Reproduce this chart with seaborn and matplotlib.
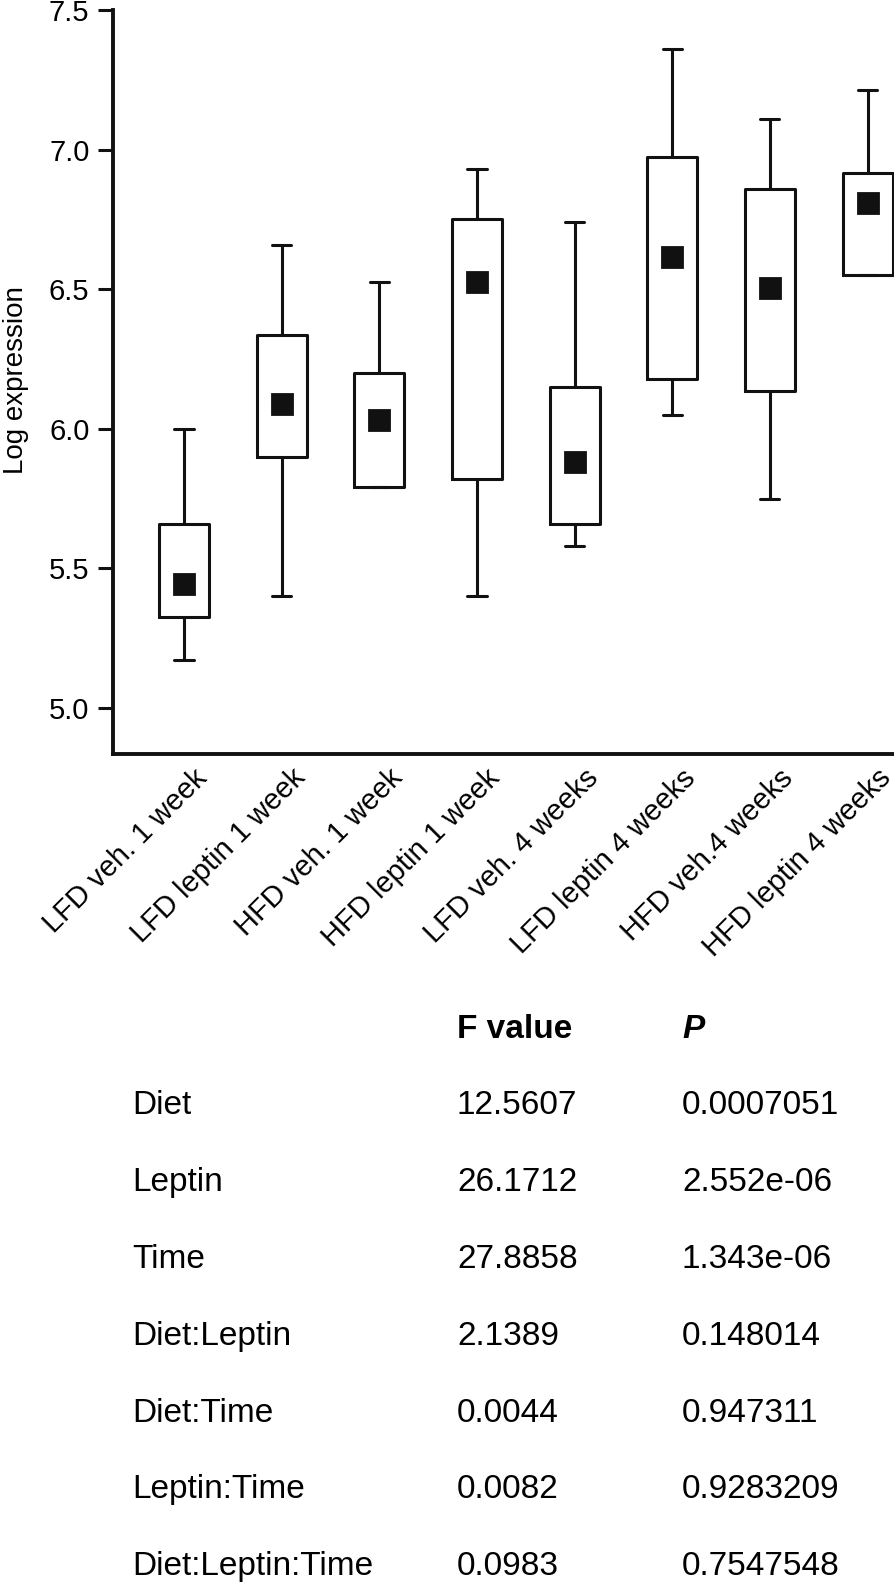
import matplotlib
matplotlib.use("Agg")
import matplotlib.pyplot as plt
import matplotlib.transforms as mtransforms
import pandas as pd
import seaborn as sns

# groups on the x axis
groups = [
    "LFD veh. 1 week", "LFD leptin 1 week", "HFD veh. 1 week", "HFD leptin 1 week",
    "LFD veh. 4 weeks", "LFD leptin 4 weeks", "HFD veh.4 weeks", "HFD leptin 4 weeks",
]
# box summaries
whisker_low = [5.17, 5.40, 5.79, 5.40, 5.58, 6.05, 5.75, 6.55]
box_low = [5.325, 5.90, 5.79, 5.82, 5.66, 6.18, 6.135, 6.55]
box_high = [5.66, 6.335, 6.20, 6.75, 6.15, 6.975, 6.86, 6.915]
whisker_high = [6.00, 6.66, 6.525, 6.93, 6.74, 7.36, 7.11, 7.215]
means = [5.445, 6.09, 6.03, 6.525, 5.88, 6.615, 6.505, 6.81]

# ANOVA table
terms = ["Diet", "Leptin", "Time", "Diet:Leptin", "Diet:Time", "Leptin:Time", "Diet:Leptin:Time"]
f_values = ["12.5607", "26.1712", "27.8858", "2.1389", "0.0044", "0.0082", "0.0983"]
p_values = ["0.0007051", "2.552e-06", "1.343e-06", "0.148014", "0.947311", "0.9283209", "0.7547548"]

# five summary values per group -> quartiles of 5 points land exactly on the box edges
rows = []
for g, lo, q1, m, q3, hi in zip(groups, whisker_low, box_low, means, box_high, whisker_high):
    for v in (lo, q1, m, q3, hi):
        rows.append({"group": g, "value": v})
df = pd.DataFrame(rows)

sns.set_theme(style="ticks")
plt.rcParams["font.family"] = ["Liberation Sans", "DejaVu Sans"]
plt.rcParams.update({
    "text.color": "black", "axes.labelcolor": "black",
    "xtick.color": "black", "ytick.color": "black",
})

fig = plt.figure(figsize=(8.94, 15.83), dpi=100)
ax = fig.add_axes([113 / 894, 1 - 754 / 1583, 781 / 894, 744 / 1583])

sns.boxplot(
    data=df, x="group", y="value", order=groups, ax=ax,
    whis=(0, 100), width=0.51, fill=False, color="#111111", linewidth=2.2,
    capwidths=0.195, medianprops={"visible": False},
)
sns.pointplot(
    x=groups, y=means, order=groups, ax=ax, errorbar=None, color="#111111",
    marker="s", markersize=14.4, linestyle="none",
)

ax.set_xlim(-0.727, 7.27)
ax.set_ylim(4.835, 7.5)
ax.set_yticks([5.0, 5.5, 6.0, 6.5, 7.0, 7.5])
ax.set_yticklabels(["5.0", "5.5", "6.0", "6.5", "7.0", "7.5"])
ax.tick_params(axis="y", length=11, width=2.2, labelsize=21, pad=6, color="#111111")
ax.tick_params(axis="x", length=0, labelsize=21, pad=7)
shift = mtransforms.ScaledTranslation(9 / 100, 0, fig.dpi_scale_trans)
for lab in ax.get_xticklabels():
    lab.set_rotation(45)
    lab.set_ha("right")
    lab.set_va("top")
    lab.set_rotation_mode("anchor")
    lab.set_transform(lab.get_transform() + shift)

sns.despine(ax=ax)
for side in ("left", "bottom"):
    ax.spines[side].set_linewidth(2.8)
    ax.spines[side].set_color("#111111")

ax.set_xlabel("")
ax.set_ylabel("Log expression", fontsize=20)
ax.yaxis.set_label_coords(-0.108, 0.503)

# table under the plot
col_x = [132 / 894, 457 / 894, 682 / 894]
row_top = 1029
row_step = 76.8
fs = 24
fig.text(col_x[1], 1 - row_top / 1583, "F value", fontsize=fs, fontweight="bold", va="center")
fig.text(col_x[2], 1 - row_top / 1583, "P", fontsize=fs, fontweight="bold", fontstyle="italic", va="center")
for i, (t, f, p) in enumerate(zip(terms, f_values, p_values)):
    y = 1 - (row_top + (i + 1) * row_step) / 1583
    fig.text(col_x[0], y, t, fontsize=fs, va="center")
    fig.text(col_x[1], y, f, fontsize=fs, va="center")
    fig.text(col_x[2], y, p, fontsize=fs, va="center")

fig.savefig("out.png", dpi=100)
